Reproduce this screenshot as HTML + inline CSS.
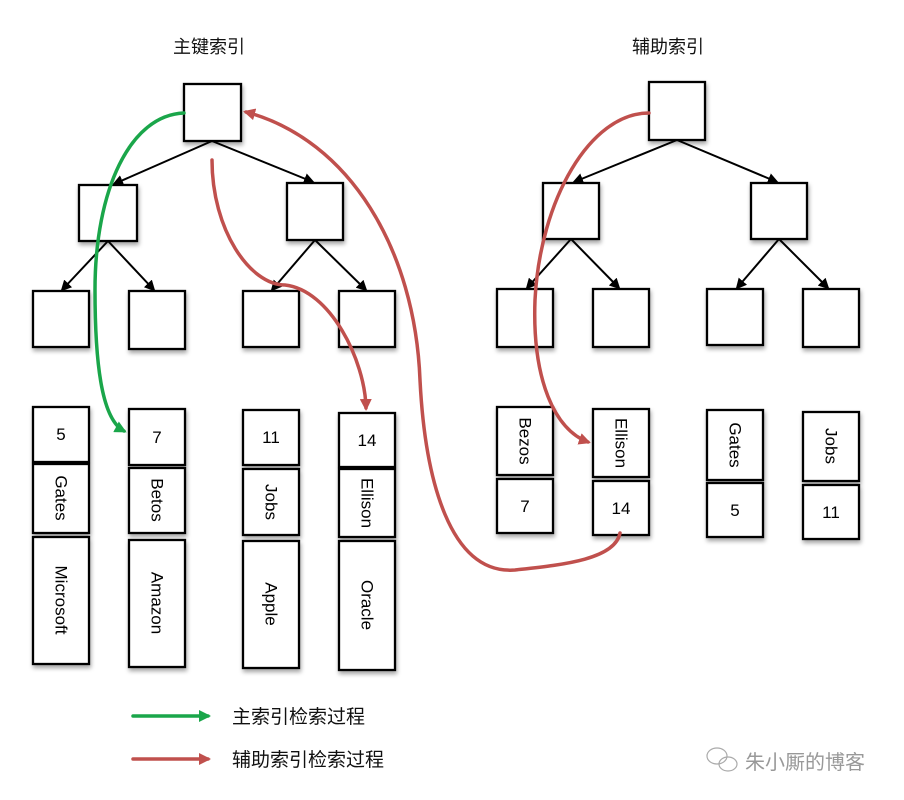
<!DOCTYPE html>
<html><head><meta charset="utf-8"><style>
html,body{margin:0;padding:0;background:#fff;width:904px;height:800px;overflow:hidden}
svg text{font-family:"Liberation Sans","Noto Sans CJK SC",sans-serif}
</style></head><body>
<svg width="904" height="800" viewBox="0 0 904 800" xmlns="http://www.w3.org/2000/svg">
<defs>
<filter id="sh" x="-20%" y="-20%" width="140%" height="150%"><feDropShadow dx="1" dy="3" stdDeviation="2" flood-color="#000" flood-opacity="0.35"/></filter>
<marker id="ak" markerWidth="11" markerHeight="11" refX="9" refY="5.5" orient="auto" markerUnits="userSpaceOnUse"><path d="M0,0 L11,5.5 L0,11 z" fill="#000"/></marker>
<marker id="ar" markerWidth="12" markerHeight="12" refX="9" refY="6" orient="auto" markerUnits="userSpaceOnUse"><path d="M0,0 L12,6 L0,12 z" fill="#c0504d"/></marker>
<marker id="ag" markerWidth="12" markerHeight="12" refX="9" refY="6" orient="auto" markerUnits="userSpaceOnUse"><path d="M0,0 L12,6 L0,12 z" fill="#1aa64a"/></marker>
</defs>
<text x="173" y="53" font-size="18" fill="#111">主键索引</text>
<text x="632" y="53" font-size="18" fill="#111">辅助索引</text>
<g stroke="#000" stroke-width="2.3" fill="#fff" filter="url(#sh)">
<rect x="184" y="84" width="57" height="57"/>
<rect x="79" y="185" width="58" height="56"/><rect x="287" y="183" width="56" height="57"/>
<rect x="33" y="291" width="56" height="56"/><rect x="129" y="291" width="56" height="58"/>
<rect x="243" y="291" width="56" height="56"/><rect x="339" y="291" width="56" height="56"/>
<rect x="649" y="82" width="56" height="58"/>
<rect x="543" y="183" width="56" height="56"/><rect x="751" y="183" width="56" height="56"/>
<rect x="497" y="289" width="56" height="58"/><rect x="593" y="289" width="56" height="58"/>
<rect x="707" y="289" width="56" height="56"/><rect x="803" y="289" width="56" height="58"/>
<rect x="33" y="407" width="56" height="55"/><rect x="33" y="464" width="56" height="69"/><rect x="33" y="537" width="56" height="127"/>
<rect x="129" y="409" width="56" height="56"/><rect x="129" y="468" width="56" height="65"/><rect x="129" y="540" width="56" height="127"/>
<rect x="243" y="410" width="56" height="55"/><rect x="243" y="469" width="56" height="66"/><rect x="243" y="541" width="56" height="127"/>
<rect x="339" y="413" width="56" height="54"/><rect x="339" y="469" width="56" height="68"/><rect x="339" y="541" width="56" height="129"/>
<rect x="497" y="407" width="56" height="68"/><rect x="497" y="479" width="56" height="54"/>
<rect x="593" y="409" width="56" height="68"/><rect x="593" y="481" width="56" height="54"/>
<rect x="707" y="410" width="56" height="70"/><rect x="707" y="483" width="56" height="54"/>
<rect x="803" y="412" width="56" height="69"/><rect x="803" y="485" width="56" height="54"/>
</g>
<g stroke="#000" stroke-width="2" fill="none" marker-end="url(#ak)">
<line x1="212" y1="141" x2="114" y2="184"/><line x1="212" y1="141" x2="313" y2="182"/>
<line x1="108" y1="241" x2="62" y2="290"/><line x1="108" y1="241" x2="154" y2="290"/>
<line x1="315" y1="240" x2="272" y2="290"/><line x1="315" y1="240" x2="366" y2="290"/>
<line x1="677" y1="140" x2="574" y2="182"/><line x1="677" y1="140" x2="777" y2="182"/>
<line x1="571" y1="239" x2="527" y2="288"/><line x1="571" y1="239" x2="619" y2="288"/>
<line x1="779" y1="239" x2="737" y2="288"/><line x1="779" y1="239" x2="828" y2="288"/>
</g>
<g font-size="17" fill="#000" text-anchor="middle">
<text x="61" y="440">5</text><text x="157" y="443">7</text><text x="271" y="443">11</text><text x="367" y="446">14</text>
<text x="525" y="512">7</text><text x="621" y="514">14</text><text x="735" y="516">5</text><text x="831" y="518">11</text>
</g>
<g font-size="17" fill="#000" text-anchor="middle" dominant-baseline="central">
<text transform="translate(61,498) rotate(90)">Gates</text>
<text transform="translate(61,600) rotate(90)">Microsoft</text>
<text transform="translate(157,500) rotate(90)">Betos</text>
<text transform="translate(157,603) rotate(90)">Amazon</text>
<text transform="translate(271,502) rotate(90)">Jobs</text>
<text transform="translate(271,604) rotate(90)">Apple</text>
<text transform="translate(367,503) rotate(90)">Ellison</text>
<text transform="translate(367,605) rotate(90)">Oracle</text>
<text transform="translate(525,441) rotate(90)">Bezos</text>
<text transform="translate(621,443) rotate(90)">Ellison</text>
<text transform="translate(735,445) rotate(90)">Gates</text>
<text transform="translate(831,446) rotate(90)">Jobs</text>
</g>
<g fill="none" stroke-width="3.5" stroke-linecap="round">
<path d="M184,113 C130,115 95,190 95,290 C95,370 103,420 124,431" stroke="#1aa64a" marker-end="url(#ag)"/>
<path d="M212,160 C212,230 250,285 285,285 C330,290 365,360 366,408" stroke="#c0504d" marker-end="url(#ar)"/>
<path d="M649,113 C590,113 540,200 535,300 C532,380 555,430 588,442" stroke="#c0504d" marker-end="url(#ar)"/>
<path d="M620,533 C615,560 560,565 515,570 C450,575 425,480 420,380 C415,250 350,140 246,112" stroke="#c0504d" marker-end="url(#ar)"/>
<line x1="133" y1="716" x2="208" y2="716" stroke="#1aa64a" marker-end="url(#ag)"/>
<line x1="133" y1="759" x2="208" y2="759" stroke="#c0504d" marker-end="url(#ar)"/>
</g>
<text x="232" y="723" font-size="19" fill="#111">主索引检索过程</text>
<text x="232" y="766" font-size="19" fill="#111">辅助索引检索过程</text>
<g stroke="#aaa" fill="none" stroke-width="1.2">
<ellipse cx="717" cy="756" rx="10" ry="8"/><ellipse cx="728" cy="764" rx="9" ry="7"/>
</g>
<text x="745" y="769" font-size="20" fill="#999">朱小厮的博客</text>
</svg>
</body></html>
